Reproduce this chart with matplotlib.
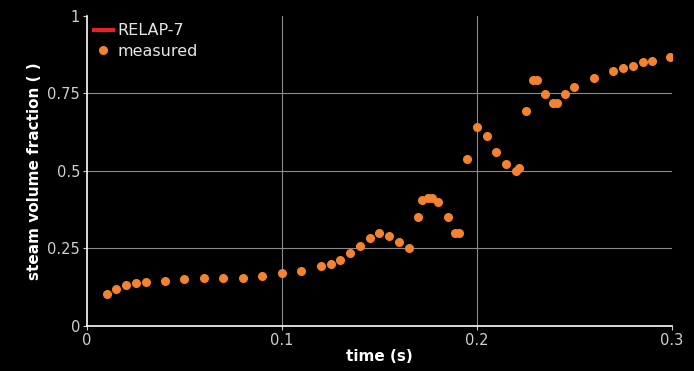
import matplotlib
matplotlib.use("Agg")
import matplotlib.pyplot as plt

# measured steam volume fraction vs time
time_s = [
    0.010, 0.015, 0.020, 0.025, 0.030, 0.040, 0.050, 0.060, 0.070, 0.080,
    0.090, 0.100, 0.110, 0.120, 0.125, 0.130, 0.135, 0.140, 0.145, 0.150,
    0.155, 0.160, 0.165, 0.170, 0.172, 0.175, 0.177, 0.180, 0.185, 0.189,
    0.191, 0.195, 0.200, 0.205, 0.210, 0.215, 0.220, 0.2215, 0.225, 0.229,
    0.231, 0.235, 0.239, 0.241, 0.245, 0.250, 0.260, 0.270, 0.275, 0.280,
    0.285, 0.290, 0.299,
]
steam_fraction = [
    0.103, 0.118, 0.131, 0.138, 0.141, 0.144, 0.151, 0.154, 0.154, 0.156,
    0.162, 0.170, 0.178, 0.193, 0.199, 0.214, 0.234, 0.257, 0.283, 0.299,
    0.289, 0.270, 0.252, 0.352, 0.406, 0.414, 0.412, 0.401, 0.352, 0.301,
    0.301, 0.539, 0.642, 0.613, 0.561, 0.523, 0.500, 0.510, 0.694, 0.794,
    0.794, 0.748, 0.720, 0.720, 0.748, 0.771, 0.800, 0.823, 0.832, 0.839,
    0.852, 0.855, 0.868,
]

# RELAP-7 series has no samples in this window, it only shows in the legend
relap_time = []
relap_fraction = []

x_ticks = [0, 0.1, 0.2, 0.3]
x_tick_labels = ["0", "0.1", "0.2", "0.3"]
y_ticks = [0, 0.25, 0.5, 0.75, 1]
y_tick_labels = ["0", "0.25", "0.5", "0.75", "1"]

bg = "black"
grid_color = "#8a8a8a"
tick_color = "#d0d0d0"
orange = "#f5822e"
red = "#e8202a"

plt.rcParams["font.family"] = ["DejaVu Sans"]

fig = plt.figure(figsize=(6.94, 3.71), dpi=100, facecolor=bg)
ax = fig.add_axes([0.1254, 0.1213, 0.8426, 0.8357], facecolor=bg)

ax.plot(relap_time, relap_fraction, color=red, lw=3, label="RELAP-7")
ax.plot(time_s, steam_fraction, ls="none", marker="o", ms=5.5,
        color=orange, mec=orange, label="measured")

ax.set_xlim(0, 0.3)
ax.set_ylim(0, 1)
ax.set_xticks(x_ticks, x_tick_labels)
ax.set_yticks(y_ticks, y_tick_labels)

# grid lines only at the interior ticks
for xv in x_ticks[1:-1]:
    ax.axvline(xv, color=grid_color, lw=0.8, zorder=0)
for yv in y_ticks[1:-1]:
    ax.axhline(yv, color=grid_color, lw=0.8, zorder=0)

for side in ["top", "right"]:
    ax.spines[side].set_visible(False)
for side in ["left", "bottom"]:
    ax.spines[side].set_color("white")
    ax.spines[side].set_linewidth(1.2)

ax.tick_params(colors=tick_color, labelsize=10.5, length=3, width=0.8,
               direction="out", pad=2)

ax.set_xlabel("time (s)", color="white", fontsize=11, fontweight="bold",
              labelpad=1)
ax.set_ylabel("steam volume fraction ( )", color="white", fontsize=11,
              fontweight="bold", labelpad=4)

leg = ax.legend(loc="upper left", bbox_to_anchor=(-0.008, 1.012),
                frameon=False, fontsize=11.5, handlelength=1.2,
                handletextpad=0.3, borderaxespad=0.3, labelspacing=0.35)
for text in leg.get_texts():
    text.set_color("#e6e6e6")

fig.savefig("out.png", dpi=100, facecolor=bg)
